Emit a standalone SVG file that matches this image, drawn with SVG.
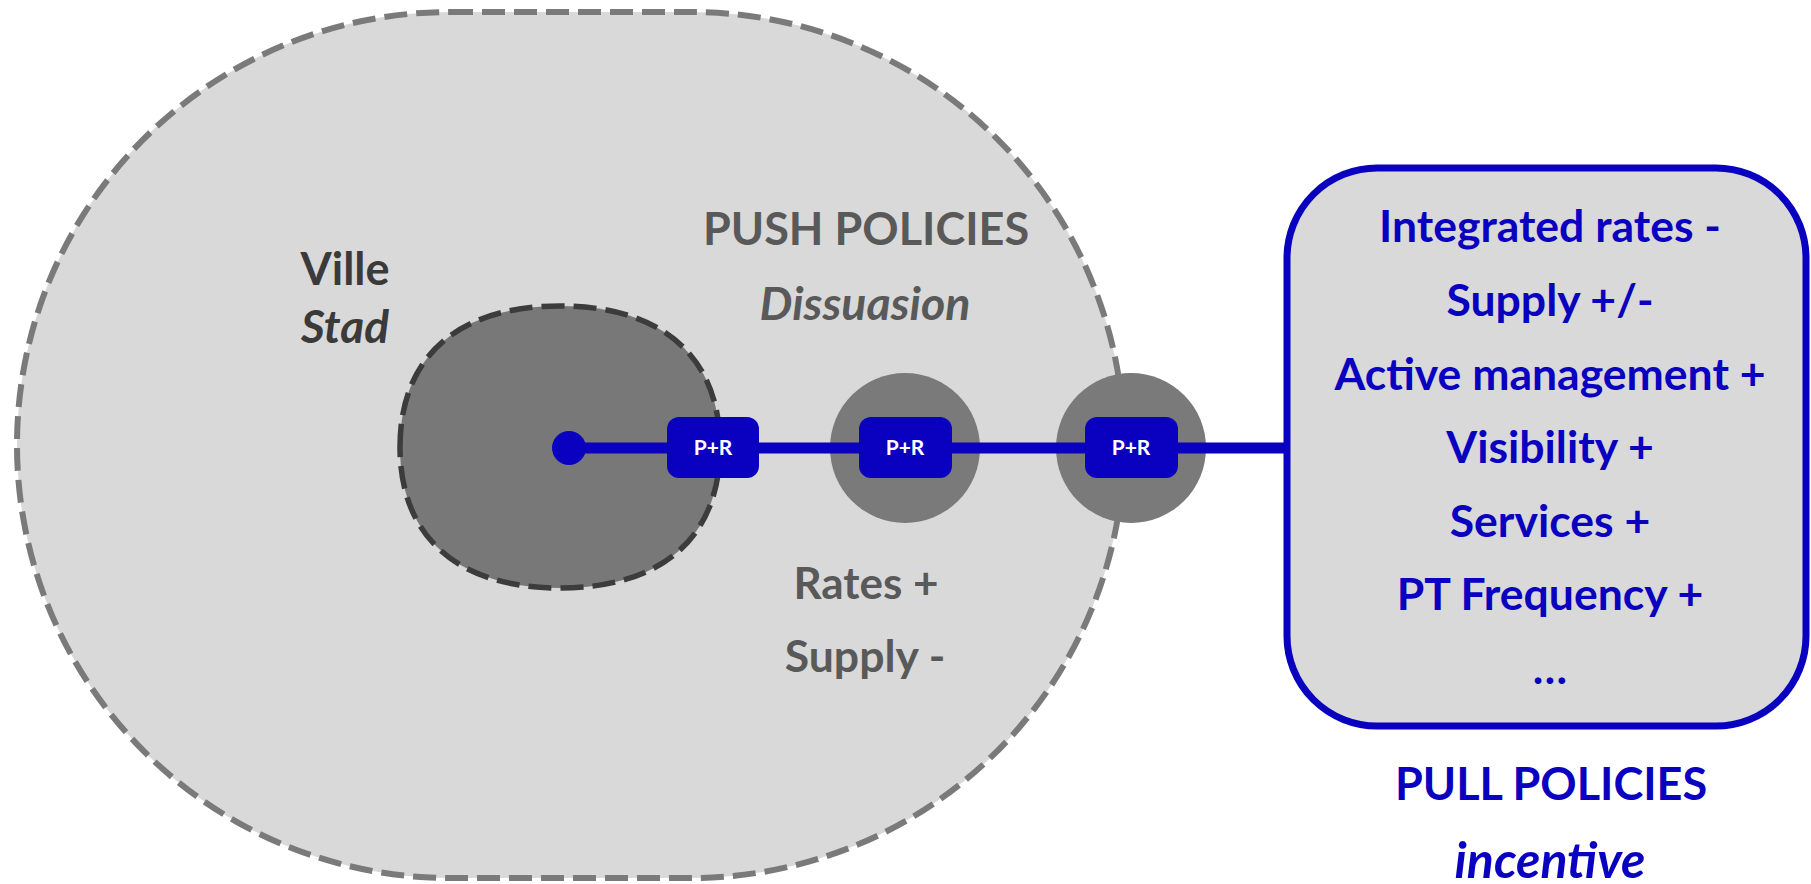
<svg xmlns="http://www.w3.org/2000/svg" width="1811" height="884" viewBox="0 0 1811 884">
<style>
  text { font-family: Lato, "Liberation Sans", sans-serif; font-weight: bold; text-anchor: middle; }
  .grey { fill: #595959; }
  .dark { fill: #3a3a3a; }
  .blue { fill: #0a00bf; }
  .head { font-size: 45px; }
  .item { font-size: 44.5px; }
  .it { font-style: italic; }
  .pr rect { fill: #0a00bf; }
  .pr text { fill: #ffffff; font-size: 21px; }
  .hub { fill: #7a7a7a; }
</style>
<rect width="1811" height="884" fill="#ffffff"/>
<g id="push-zone">
  <rect x="17" y="12" width="1107" height="866" rx="433" ry="433" fill="#d9d9d9" stroke="#7a7a7a" stroke-width="6" stroke-dasharray="23 9"/>
  <text class="grey head" x="866" y="245">PUSH POLICIES</text>
  <text class="grey it" x="865" y="320" font-size="46.5">Dissuasion</text>
  <text class="grey" x="866" y="599" font-size="44">Rates +</text>
  <text class="grey" x="865" y="672" font-size="44.5">Supply -</text>
</g>
<g id="city">
  <path d="M 400 447 C 400 356.8 457.6 306 560 306 C 662.4 306 720 356.8 720 447 C 720 537.2 662.4 588 560 588 C 457.6 588 400 537.2 400 447 Z" fill="#787878" stroke="#3c3c3c" stroke-width="5.5" stroke-dasharray="23 9"/>
  <text class="dark" x="345" y="285" font-size="45">Ville</text>
  <text class="dark it" x="345" y="343" font-size="46">Stad</text>
</g>
<g id="hub2"><circle class="hub" cx="905" cy="448" r="75"/></g>
<g id="hub3"><circle class="hub" cx="1131" cy="448" r="75"/></g>
<g id="connectors">
  <line x1="569" y1="448" x2="1287" y2="448" stroke="#0a00bf" stroke-width="11"/>
  <circle cx="569" cy="448" r="17" fill="#0a00bf"/>
</g>
<g id="pr1" class="pr"><rect x="667" y="417" width="92" height="61" rx="12"/><text x="713" y="455">P+R</text></g>
<g id="pr2" class="pr"><rect x="859" y="417" width="93" height="61" rx="12"/><text x="905" y="455">P+R</text></g>
<g id="pr3" class="pr"><rect x="1085" y="417" width="93" height="61" rx="12"/><text x="1131" y="455">P+R</text></g>
<g id="pull-box">
  <rect x="1287" y="168" width="519" height="558" rx="90" ry="90" fill="#d9d9d9" stroke="#0a00bf" stroke-width="7"/>
  <text class="blue item" x="1550" y="242">Integrated rates -</text>
  <text class="blue item" x="1550" y="316">Supply +/-</text>
  <text class="blue item" x="1550" y="390">Active management +</text>
  <text class="blue item" x="1550" y="463">Visibility +</text>
  <text class="blue item" x="1550" y="537">Services +</text>
  <text class="blue item" x="1550" y="610">PT Frequency +</text>
  <text class="blue item" x="1550" y="684">…</text>
</g>
<g id="pull-label">
  <text class="blue head" x="1551" y="800">PULL POLICIES</text>
  <text class="blue it" x="1550" y="878" font-size="50">incentive</text>
</g>
</svg>
